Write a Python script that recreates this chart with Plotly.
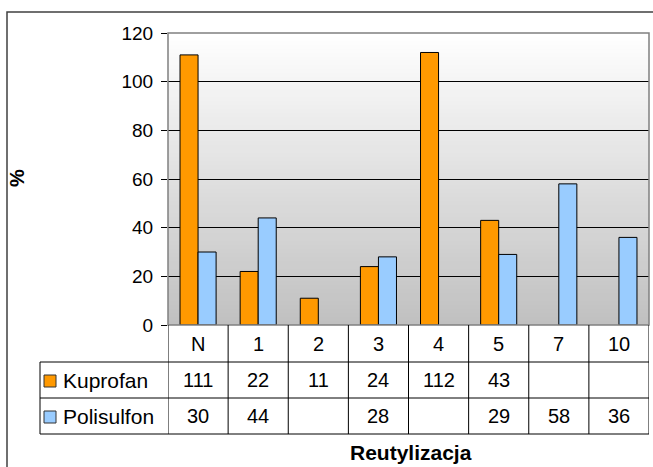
import plotly.graph_objects as go

# Reuse cycles and measured values (%)
categories = ["N", "1", "2", "3", "4", "5", "7", "10"]
kuprofan = [111, 22, 11, 24, 112, 43, None, None]
polisulfon = [30, 44, None, 28, None, 29, 58, 36]
series_names = ["Kuprofan", "Polisulfon"]
series_colors = ["#FF9900", "#99CCFF"]
y_ticks = [0, 20, 40, 60, 80, 100, 120]

W, H = 653, 467
L, R, T, B = 168, 649, 33, 325  # plot-area box in pixels
FONT = "Liberation Sans, Arial, sans-serif"


def px(x):
    return (x - L) / (R - L)


def py(y):
    return (B - y) / (B - T)


def fnt(size):
    return dict(family=FONT, size=size, color="#000000")


fig = go.Figure()
for name, vals, col in zip(series_names, [kuprofan, polisulfon], series_colors):
    fig.add_trace(go.Bar(
        x=categories, y=vals, name=name,
        marker=dict(color=col, line=dict(color="#000000", width=1)),
        showlegend=False, hoverinfo="x+y+name",
    ))

shapes = []

# vertical gradient behind the bars: white at the top to silver at the bottom
n_bands = 73
for i in range(n_bands):
    f = (i + 0.5) / n_bands
    v = round(255 - f * (255 - 192))
    shapes.append(dict(
        type="rect", xref="paper", yref="paper", layer="below",
        x0=0, x1=1, y0=1 - i / n_bands, y1=1 - (i + 1) / n_bands,
        fillcolor=f"rgb({v},{v},{v})", line=dict(width=0),
    ))

# plot-area frame
shapes.append(dict(type="rect", xref="paper", yref="paper", x0=0, x1=1, y0=0, y1=1,
                   line=dict(color="#808080", width=1.5)))

# data table under the axis
row_edges = [325, 362, 398, 434]
line_style = dict(color="#000000", width=1)
for k, yy in enumerate(row_edges[1:]):
    shapes.append(dict(type="line", xref="paper", yref="paper",
                       x0=px(40), x1=px(R), y0=py(yy), y1=py(yy), line=line_style))
for j in range(len(categories) + 1):
    xx = j - 0.5
    shapes.append(dict(type="line", xref="x", yref="paper",
                       x0=xx, x1=xx, y0=py(row_edges[0]), y1=py(row_edges[-1]),
                       line=line_style))
shapes.append(dict(type="line", xref="paper", yref="paper",
                   x0=px(40), x1=px(40), y0=py(row_edges[1]), y1=py(row_edges[-1]),
                   line=line_style))

# legend keys in the table
for k, col in enumerate(series_colors):
    cy = (row_edges[k + 1] + row_edges[k + 2]) / 2 + 1
    shapes.append(dict(type="rect", xref="paper", yref="paper",
                       x0=px(44), x1=px(56), y0=py(cy - 6), y1=py(cy + 6),
                       fillcolor=col, line=dict(color="#333333", width=1)))

# outer chart border
shapes.append(dict(type="rect", xref="paper", yref="paper",
                   x0=px(7), x1=px(W + 10), y0=py(12), y1=py(H + 10),
                   line=dict(color="#404040", width=1.5)))

annotations = []
header_y = (row_edges[0] + row_edges[1]) / 2
for j, c in enumerate(categories):
    annotations.append(dict(x=j, y=py(header_y), xref="x", yref="paper", text=c,
                            showarrow=False, font=fnt(20), xanchor="center", yanchor="middle"))
for k, (name, vals) in enumerate(zip(series_names, [kuprofan, polisulfon])):
    cy = (row_edges[k + 1] + row_edges[k + 2]) / 2
    annotations.append(dict(x=px(61), y=py(cy), xref="paper", yref="paper", text=name,
                            showarrow=False, font=fnt(21), xanchor="left", yanchor="middle"))
    for j, v in enumerate(vals):
        if v is None:
            continue
        annotations.append(dict(x=j, y=py(cy), xref="x", yref="paper", text=str(v),
                                showarrow=False, font=fnt(20), xanchor="center", yanchor="middle"))

annotations.append(dict(x=px(411), y=py(452), xref="paper", yref="paper", text="<b>Reutylizacja</b>",
                        showarrow=False, font=fnt(21), xanchor="center", yanchor="middle"))
annotations.append(dict(x=px(17), y=py(178), xref="paper", yref="paper", text="<b>%</b>",
                        showarrow=False, textangle=-90, font=fnt(20),
                        xanchor="center", yanchor="middle"))

fig.update_layout(
    width=W, height=H,
    margin=dict(l=L, r=W - R, t=T, b=H - B, pad=0),
    paper_bgcolor="#FFFFFF", plot_bgcolor="rgba(0,0,0,0)",
    barmode="group", bargap=0.4, bargroupgap=0,
    shapes=shapes, annotations=annotations,
    font=fnt(19),
    xaxis=dict(type="category", categoryorder="array", categoryarray=categories,
               range=[-0.5, len(categories) - 0.5], showticklabels=False,
               showgrid=False, zeroline=False, showline=False, ticks=""),
    yaxis=dict(range=[0, 120], tickvals=y_ticks, ticks="outside", ticklen=6,
               tickcolor="#000000", tickwidth=1, ticklabelstandoff=4,
               showgrid=True, gridcolor="#000000", gridwidth=1,
               zeroline=False, showline=False, tickfont=fnt(19)),
)

fig.write_html("out.html")
